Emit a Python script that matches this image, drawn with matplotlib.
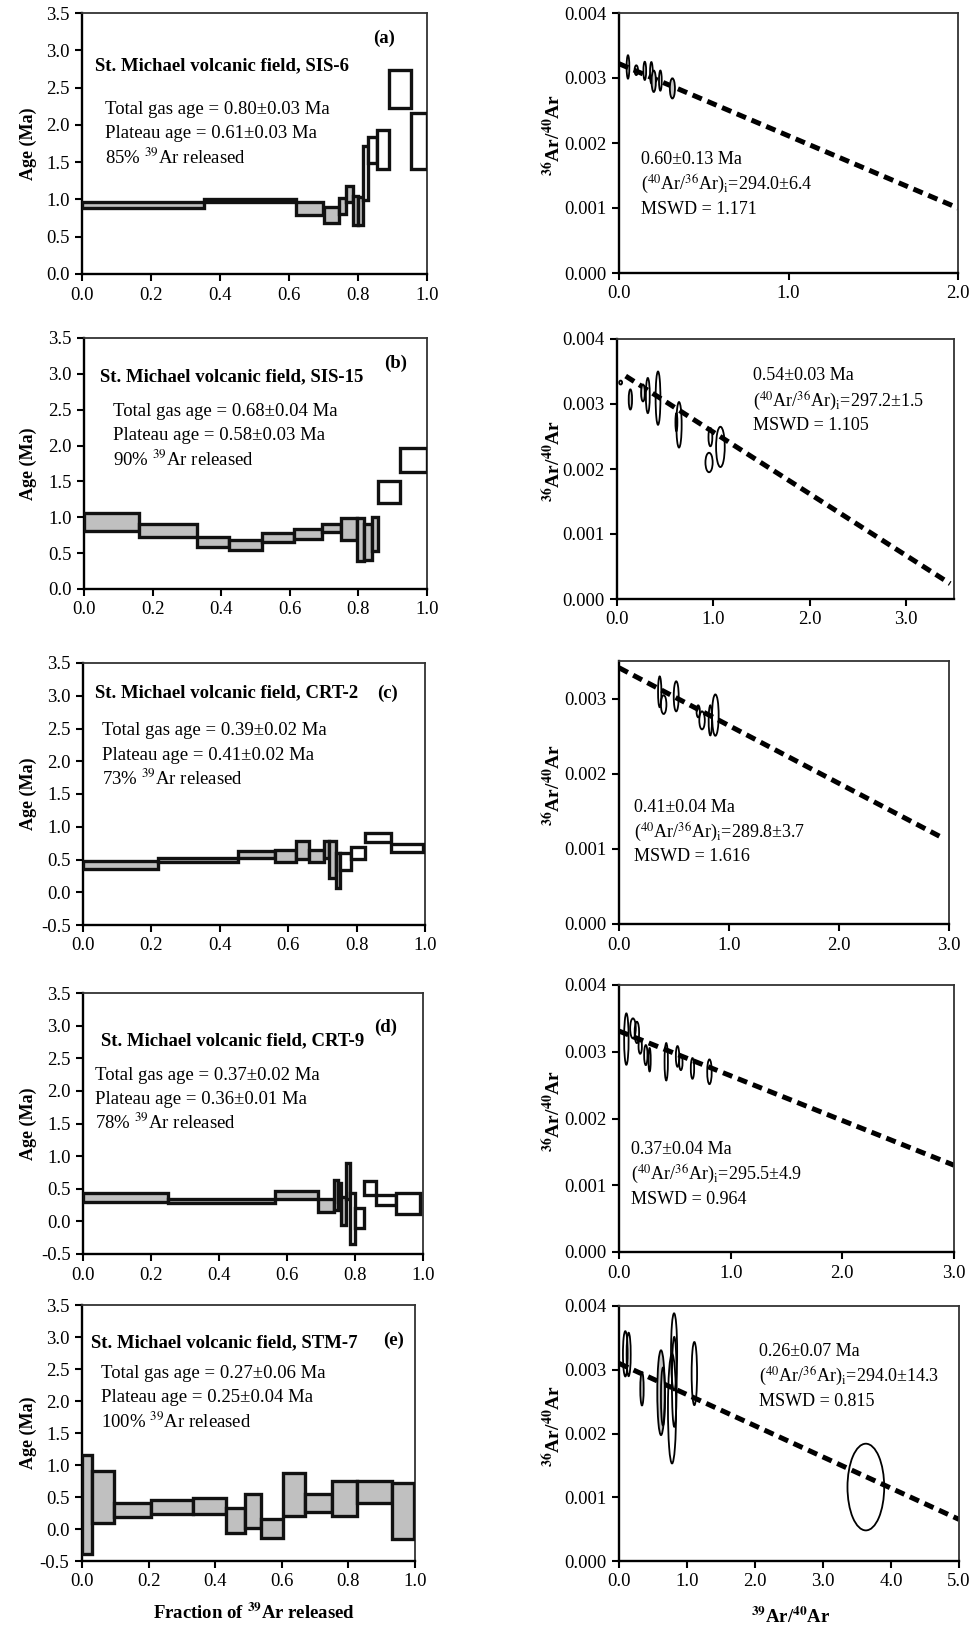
import numpy as np
import matplotlib
matplotlib.use('Agg')
import matplotlib.pyplot as plt
from matplotlib.patches import Ellipse

plt.rcParams['font.serif'] = ['Liberation Serif', 'DejaVu Serif']
plt.rcParams['font.family'] = 'serif'
plt.rcParams['mathtext.fontset'] = 'stix'

W, H = 973, 1625

# ---- step-heating spectra: cumulative 39Ar fraction, age low / high (Ma), plateau steps ----
sis6_f = [0, 0.355, 0.62, 0.70, 0.745, 0.765, 0.785, 0.80, 0.815, 0.83, 0.855, 0.89, 0.955, 1.0]
sis6_lo = [0.88, 0.97, 0.79, 0.68, 0.81, 0.97, 0.66, 0.66, 0.99, 1.49, 1.41, 2.22, 1.41]
sis6_hi = [0.97, 1.01, 0.97, 0.90, 1.02, 1.18, 1.05, 1.03, 1.72, 1.84, 1.93, 2.73, 2.16]
sis6_nplat = 8

sis15_f = [0, 0.161, 0.328, 0.422, 0.519, 0.612, 0.694, 0.748, 0.797, 0.816, 0.841, 0.857, 0.920, 1.0]
sis15_lo = [0.81, 0.72, 0.59, 0.55, 0.66, 0.70, 0.79, 0.69, 0.39, 0.41, 0.53, 1.20, 1.63]
sis15_hi = [1.06, 0.90, 0.73, 0.69, 0.78, 0.84, 0.90, 0.99, 0.99, 0.90, 1.01, 1.50, 1.97]
sis15_nplat = 11

crt2_f = [0, 0.219, 0.453, 0.560, 0.623, 0.662, 0.706, 0.720, 0.740, 0.752, 0.785, 0.825, 0.900, 0.995]
crt2_lo = [0.35, 0.46, 0.53, 0.46, 0.51, 0.46, 0.53, 0.21, 0.06, 0.34, 0.51, 0.77, 0.61]
crt2_hi = [0.47, 0.53, 0.63, 0.64, 0.79, 0.65, 0.79, 0.79, 0.60, 0.60, 0.69, 0.90, 0.74]
crt2_nplat = 9

crt9_f = [0, 0.25, 0.566, 0.690, 0.739, 0.751, 0.759, 0.773, 0.785, 0.799, 0.827, 0.862, 0.92, 0.991]
crt9_lo = [0.29, 0.28, 0.34, 0.15, 0.18, 0.30, -0.06, 0.34, -0.34, -0.10, 0.41, 0.25, 0.12]
crt9_hi = [0.44, 0.35, 0.46, 0.34, 0.64, 0.59, 0.38, 0.89, 0.44, 0.20, 0.62, 0.40, 0.44]
crt9_nplat = 8

stm7_f = [0, 0.031, 0.096, 0.206, 0.332, 0.431, 0.489, 0.539, 0.603, 0.670, 0.752, 0.825, 0.931, 0.996]
stm7_lo = [-0.39, 0.09, 0.19, 0.24, 0.24, -0.06, 0.02, -0.14, 0.21, 0.27, 0.20, 0.41, -0.15]
stm7_hi = [1.16, 0.91, 0.41, 0.46, 0.49, 0.33, 0.54, 0.16, 0.87, 0.54, 0.75, 0.75, 0.72]
stm7_nplat = 13

# ---- inverse isochrons: ellipse centres (39Ar/40Ar, 36Ar/40Ar), widths, heights, fit line ends ----
iso_a_x = [0.053, 0.102, 0.152, 0.191, 0.205, 0.244, 0.315]
iso_a_y = [3.17e-3, 3.12e-3, 3.11e-3, 3.08e-3, 2.95e-3, 2.96e-3, 2.84e-3]
iso_a_w = [0.016, 0.02, 0.016, 0.016, 0.025, 0.016, 0.03]
iso_a_h = [0.36e-3, 0.15e-3, 0.28e-3, 0.33e-3, 0.33e-3, 0.31e-3, 0.31e-3]
line_a_x = [0.0, 2.0]
line_a_y = [3.22e-3, 1.00e-3]

iso_b_x = [0.038, 0.139, 0.27, 0.32, 0.426, 0.617, 0.644, 0.956, 0.97, 1.074]
iso_b_y = [3.33e-3, 3.07e-3, 3.17e-3, 3.13e-3, 3.09e-3, 2.72e-3, 2.68e-3, 2.10e-3, 2.49e-3, 2.34e-3]
iso_b_w = [0.03, 0.035, 0.04, 0.04, 0.05, 0.02, 0.055, 0.075, 0.04, 0.09]
iso_b_h = [0.06e-3, 0.31e-3, 0.26e-3, 0.54e-3, 0.82e-3, 0.28e-3, 0.70e-3, 0.30e-3, 0.28e-3, 0.62e-3]
line_b_x = [0.09, 3.46]
line_b_y = [3.43e-3, 0.236e-3]

iso_c_x = [0.37, 0.406, 0.52, 0.72, 0.755, 0.83, 0.876]
iso_c_y = [3.09e-3, 2.92e-3, 3.03e-3, 2.83e-3, 2.71e-3, 2.71e-3, 2.78e-3]
iso_c_w = [0.03, 0.05, 0.045, 0.03, 0.05, 0.03, 0.06]
iso_c_h = [0.41e-3, 0.25e-3, 0.40e-3, 0.16e-3, 0.24e-3, 0.40e-3, 0.55e-3]
line_c_x = [0.0, 2.95]
line_c_y = [3.41e-3, 1.14e-3]

iso_d_x = [0.066, 0.125, 0.16, 0.19, 0.24, 0.274, 0.423, 0.524, 0.554, 0.658, 0.81]
iso_d_y = [3.19e-3, 3.35e-3, 3.29e-3, 3.08e-3, 2.95e-3, 2.88e-3, 2.85e-3, 2.93e-3, 2.84e-3, 2.75e-3, 2.70e-3]
iso_d_w = [0.04, 0.05, 0.04, 0.03, 0.03, 0.02, 0.03, 0.03, 0.03, 0.03, 0.04]
iso_d_h = [0.77e-3, 0.30e-3, 0.32e-3, 0.22e-3, 0.30e-3, 0.35e-3, 0.56e-3, 0.31e-3, 0.23e-3, 0.31e-3, 0.37e-3]
line_d_x = [0.0, 3.0]
line_d_y = [3.31e-3, 1.30e-3]

iso_e_x = [0.093, 0.142, 0.338, 0.618, 0.647, 0.78, 0.81, 0.813, 1.108, 3.63]
iso_e_y = [3.25e-3, 3.24e-3, 2.70e-3, 2.64e-3, 2.58e-3, 2.39e-3, 3.28e-3, 2.81e-3, 2.94e-3, 1.16e-3]
iso_e_w = [0.07, 0.06, 0.05, 0.11, 0.06, 0.12, 0.09, 0.07, 0.08, 0.54]
iso_e_h = [0.71e-3, 0.68e-3, 0.52e-3, 1.33e-3, 0.91e-3, 1.72e-3, 1.21e-3, 1.41e-3, 0.99e-3, 1.36e-3]
line_e_x = [0.0, 5.0]
line_e_y = [3.10e-3, 0.653e-3]

titles = ['St. Michael volcanic field, SIS-6', 'St. Michael volcanic field, SIS-15',
          'St. Michael volcanic field, CRT-2', 'St. Michael volcanic field, CRT-9',
          'St. Michael volcanic field, STM-7']
letters = ['(a)', '(b)', '(c)', '(d)', '(e)']
total_gas = ['0.80\u00b10.03', '0.68\u00b10.04', '0.39\u00b10.02', '0.37\u00b10.02', '0.27\u00b10.06']
plateau = ['0.61\u00b10.03', '0.58\u00b10.03', '0.41\u00b10.02', '0.36\u00b10.01', '0.25\u00b10.04']
released = ['85%', '90%', '73%', '78%', '100%']
iso_age = ['0.60\u00b10.13', '0.54\u00b10.03', '0.41\u00b10.04', '0.37\u00b10.04', '0.26\u00b10.07']
iso_ratio = ['294.0\u00b16.4', '297.2\u00b11.5', '289.8\u00b13.7', '295.5\u00b14.9', '294.0\u00b114.3']
mswd = ['1.171', '1.105', '1.616', '0.964', '0.815']

spectra = [(sis6_f, sis6_lo, sis6_hi, sis6_nplat), (sis15_f, sis15_lo, sis15_hi, sis15_nplat),
           (crt2_f, crt2_lo, crt2_hi, crt2_nplat), (crt9_f, crt9_lo, crt9_hi, crt9_nplat),
           (stm7_f, stm7_lo, stm7_hi, stm7_nplat)]
isos = [(iso_a_x, iso_a_y, iso_a_w, iso_a_h, line_a_x, line_a_y),
        (iso_b_x, iso_b_y, iso_b_w, iso_b_h, line_b_x, line_b_y),
        (iso_c_x, iso_c_y, iso_c_w, iso_c_h, line_c_x, line_c_y),
        (iso_d_x, iso_d_y, iso_d_w, iso_d_h, line_d_x, line_d_y),
        (iso_e_x, iso_e_y, iso_e_w, iso_e_h, line_e_x, line_e_y)]
iso_gray = [[4, 6], [1, 2, 5], [], [], [2, 3]]

# layout in pixels (x0, x1, ytop, ybottom)
left_box = [(82, 427, 13, 274), (84, 427, 338, 589), (83, 425, 663, 925), (83, 423, 993, 1254), (82, 415, 1305, 1561)]
right_box = [(619, 958, 13, 273), (617, 954, 339, 599), (619, 949, 661, 924), (619, 954, 985, 1252), (619, 959, 1306, 1561)]
left_ymin = [0, 0, -0.5, -0.5, -0.5]
right_xmax = [2.0, 3.5, 3.0, 3.0, 5.0]
right_xticks = [[0, 1, 2], [0, 1, 2, 3], [0, 1, 2, 3], [0, 1, 2, 3], [0, 1, 2, 3, 4, 5]]
right_ymax = [0.004, 0.004, 0.0035, 0.004, 0.004]

# text positions in pixels
title_pos = [(95, 66), (100, 377), (95, 693), (101, 1041), (91, 1343)]
letter_pos = [(384, 38), (396, 363), (388, 693), (386, 1027), (394, 1340)]
stats_pos = [(105, 110), (113, 412), (102, 731), (95, 1075), (101, 1374)]
iso_pos = [(641, 159), (753, 376), (634, 807), (631, 1149), (759, 1351)]
line_gap = 24

fig = plt.figure(figsize=(W / 100, H / 100), dpi=100)


def rect(b):
    x0, x1, yt, yb = b
    return [x0 / W, 1 - yb / H, (x1 - x0) / W, (yb - yt) / H]


def ftxt(x, y, s, **kw):
    fig.text(x / W, 1 - y / H, s, **kw)


def style(ax):
    for side in ['left', 'bottom']:
        ax.spines[side].set_linewidth(1.7)
    for side in ['top', 'right']:
        ax.spines[side].set_linewidth(1.3)
        ax.spines[side].set_color('#333333')
    ax.tick_params(direction='out', length=5, width=1.5, labelsize=13.5, top=False, right=False, pad=4)


for i in range(5):
    f, lo, hi, npl = spectra[i]
    f = np.array(f)
    lo = np.array(lo)
    hi = np.array(hi)
    ax = fig.add_axes(rect(left_box[i]))
    cols = ['#c0c0c0' if k < npl else 'white' for k in range(len(lo))]
    ax.bar(f[:-1], hi - lo, width=np.diff(f), bottom=lo, align='edge', color=cols,
           edgecolor='#111111', linewidth=2.4, zorder=3)
    ax.set_xlim(0, 1)
    ax.set_ylim(left_ymin[i], 3.5)
    ax.set_xticks(np.arange(0, 1.01, 0.2))
    ax.set_yticks(np.arange(left_ymin[i], 3.51, 0.5))
    ax.xaxis.set_major_formatter(matplotlib.ticker.FormatStrFormatter('%.1f'))
    ax.yaxis.set_major_formatter(matplotlib.ticker.FormatStrFormatter('%.1f'))
    style(ax)
    x0, x1, yt, yb = left_box[i]
    ftxt(28, (yt + yb) / 2, 'Age (Ma)', rotation=90, ha='center', va='center', fontsize=13, fontweight='bold')
    ftxt(title_pos[i][0], title_pos[i][1], titles[i], fontsize=13.5, fontweight='bold', va='center')
    ftxt(letter_pos[i][0], letter_pos[i][1], letters[i], fontsize=13.5, fontweight='bold', va='center', ha='center')
    sx, sy = stats_pos[i]
    ftxt(sx, sy, 'Total gas age = %s Ma' % total_gas[i], fontsize=13.5, va='center')
    ftxt(sx, sy + line_gap, 'Plateau age = %s Ma' % plateau[i], fontsize=13.5, va='center')
    ftxt(sx, sy + 2 * line_gap, released[i] + r' $^{39}$Ar released', fontsize=13.5, va='center')

    # isochron
    ex, ey, ew, eh, lx, ly = isos[i]
    axr = fig.add_axes(rect(right_box[i]))
    axr.plot(lx, ly, color='black', linewidth=3.6, dashes=(2.0, 1.2), zorder=2)
    for k in range(len(ex)):
        fc = '#c8c8c8' if k in iso_gray[i] else 'none'
        axr.add_patch(Ellipse((ex[k], ey[k]), ew[k], eh[k], facecolor=fc, edgecolor='black',
                              linewidth=1.3, zorder=3))
    axr.set_xlim(0, right_xmax[i])
    axr.set_ylim(0, right_ymax[i])
    axr.set_xticks(right_xticks[i])
    axr.set_yticks(np.arange(0, right_ymax[i] + 1e-6, 0.001))
    axr.xaxis.set_major_formatter(matplotlib.ticker.FormatStrFormatter('%.1f'))
    axr.yaxis.set_major_formatter(matplotlib.ticker.FormatStrFormatter('%.3f'))
    style(axr)
    x0, x1, yt, yb = right_box[i]
    ftxt(553, (yt + yb) / 2 - 8, r'$^{\mathbf{36}}$Ar/$^{\mathbf{40}}$Ar', rotation=90, ha='center', va='center',
         fontsize=14, fontweight='bold')
    ix, iy = iso_pos[i]
    ftxt(ix, iy, '%s Ma' % iso_age[i], fontsize=13, va='center')
    ftxt(ix, iy + 25, r'($^{40}$Ar/$^{36}$Ar)$_{\mathrm{i}}$=' + iso_ratio[i], fontsize=13, va='center')
    ftxt(ix, iy + 50, 'MSWD = %s' % mswd[i], fontsize=13, va='center')

ftxt(254, 1613, r'Fraction of $^{\mathbf{39}}$Ar released', ha='center', va='center', fontsize=13.5, fontweight='bold')
ftxt(791, 1617, r'$^{\mathbf{39}}$Ar/$^{\mathbf{40}}$Ar', ha='center', va='center', fontsize=13.5, fontweight='bold')

fig.savefig('out.png', dpi=100)
